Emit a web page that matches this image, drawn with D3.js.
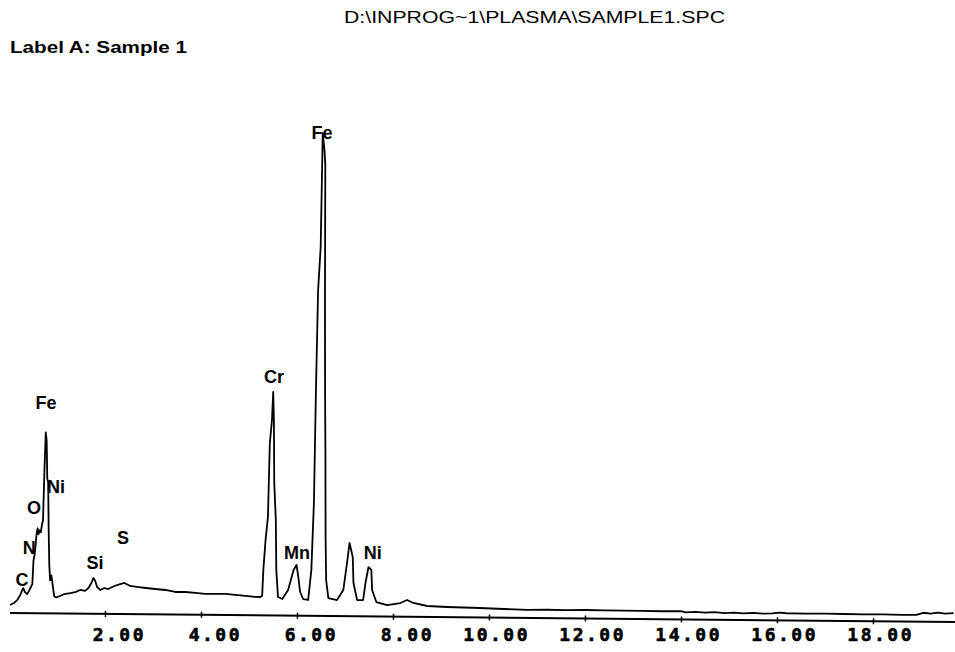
<!DOCTYPE html>
<html>
<head>
<meta charset="utf-8">
<script src="https://cdn.jsdelivr.net/npm/d3@7"></script>
<style>
  body { margin: 0; background: #fff; }
  svg { display: block; }
  .peak-label { font-family: "Liberation Sans", Arial, sans-serif; font-weight: bold; font-size: 18px; }
  .tick-label { font-family: "DejaVu Sans Mono", monospace; font-weight: bold; font-size: 18px; letter-spacing: 2.5px; stroke: #000; stroke-width: 0.6px; }
</style>
</head>
<body>
<svg width="955" height="652"></svg>
<script>
// spectrum: energy (keV) and counts
const energies = [
  0.02, 0.10, 0.17, 0.23, 0.27, 0.29, 0.33, 0.375, 0.42, 0.46, 0.48, 0.50, 0.52, 0.54, 0.56, 0.58,
  0.60, 0.625, 0.646, 0.667, 0.69, 0.71, 0.73, 0.75, 0.77, 0.79, 0.81, 0.83, 0.85, 0.875, 0.90,
  0.92, 0.94, 0.98, 1.06, 1.15, 1.27, 1.375, 1.48, 1.58, 1.65, 1.71, 1.75, 1.79, 1.83, 1.90,
  1.98, 2.06, 2.19, 2.31, 2.40, 2.52, 2.69, 2.85, 3.04, 3.25, 3.46, 3.67, 3.88, 4.08, 4.29,
  4.50, 4.71, 4.92, 5.125, 5.23, 5.27, 5.29, 5.33, 5.375, 5.40, 5.44, 5.46, 5.48, 5.50, 5.54,
  5.56, 5.60, 5.69, 5.81, 5.92, 5.98, 6.02, 6.06, 6.125, 6.23, 6.29, 6.33, 6.35, 6.375, 6.42,
  6.44, 6.48, 6.50, 6.52, 6.54, 6.56, 6.58, 6.60, 6.65, 6.83, 6.96, 7.04, 7.08, 7.15, 7.17,
  7.25, 7.375, 7.42, 7.48, 7.54, 7.56, 7.65, 7.875, 8.15, 8.29, 8.42, 8.71, 9.125, 9.81, 10.8,
  11.2, 11.6, 12.0, 12.4, 12.8, 13.2, 13.6, 14.0, 14.1, 14.3, 14.5, 14.7, 14.9, 15.1, 15.3,
  15.5, 15.7, 15.9, 16.05, 16.2, 16.6, 17.0, 17.4, 17.8, 18.2, 18.6, 18.9, 19.05, 19.2, 19.35,
  19.5, 19.68
];
const counts = [
  80, 100, 130, 180, 230, 250, 210, 190, 230, 270, 290, 530, 580, 680, 800, 850,
  790, 830, 810, 880, 930, 1430, 1810, 1730, 1350, 1310, 830, 480, 330, 380, 300,
  230, 170, 160, 175, 195, 205, 215, 237, 228, 257, 308, 358, 328, 268, 239,
  259, 249, 280, 300, 311, 282, 272, 263, 254, 245, 226, 227, 218, 209, 210,
  211, 202, 193, 184, 184, 194, 454, 754, 985, 1725, 1955, 2235, 1955, 1325, 955,
  456, 186, 166, 257, 457, 508, 388, 238, 168, 159, 459, 1130, 2260, 3260, 3690,
  4830, 4660, 4510, 3160, 2260, 1630, 790, 360, 180, 161, 262, 563, 733, 593, 333,
  163, 164, 334, 494, 465, 265, 145, 116, 137, 168, 139, 110, 102, 95, 80,
  84, 82, 85, 83, 82, 82, 80, 84, 72, 78, 70, 76, 68, 74, 66,
  72, 65, 70, 78, 72, 70, 72, 70, 68, 70, 66, 68, 90, 82, 92,
  84, 90
];

// element labels: name, energy, counts where the label sits
const labelNames = ["C", "N", "O", "Fe", "Ni", "Si", "S", "Cr", "Fe", "Mn", "Ni"];
const labelEnergies = [0.27, 0.42, 0.52, 0.77, 0.98, 1.79, 2.375, 5.52, 6.52, 6.0, 7.58];
const labelCounts = [330, 650, 1050, 2100, 1260, 500, 750, 2360, 4800, 600, 600];

const tickValues = [2, 4, 6, 8, 10, 12, 14, 16, 18];

const title = "D:\\INPROG~1\\PLASMA\\SAMPLE1.SPC";
const subtitle = "Label A: Sample 1";

const svg = d3.select("svg");
svg.append("rect").attr("width", 955).attr("height", 652).attr("fill", "#fff");

const x = d3.scaleLinear().domain([0, 19.75]).range([9, 957]);
const y = d3.scaleLinear().domain([0, 5000]).range([613, 113]);

//Header
svg.append("text")
  .attr("x", 344).attr("y", 23)
  .attr("textLength", 381).attr("lengthAdjust", "spacingAndGlyphs")
  .style("font-family", "Liberation Sans, Arial, sans-serif")
  .style("font-size", "17px")
  .text(title);

svg.append("text")
  .attr("x", 10).attr("y", 53)
  .attr("textLength", 177).attr("lengthAdjust", "spacingAndGlyphs")
  .style("font-family", "Liberation Sans, Arial, sans-serif")
  .style("font-weight", "bold")
  .style("font-size", "17px")
  .text(subtitle);

// the scan is slightly tilted, so the plot body is rotated a little
const plot = svg.append("g").attr("transform", "rotate(0.55, 10, 613)");

const axis = plot.append("g")
  .attr("transform", "translate(0,613)")
  .call(d3.axisBottom(x).tickValues(tickValues).tickSize(3).tickFormat(""));
axis.select(".domain")
  .attr("d", `M10,0H955`)
  .attr("stroke", "#000").attr("stroke-width", 2);
axis.selectAll(".tick line").attr("y1", -3).attr("y2", 3).attr("stroke-width", 1.5);

const line = d3.line()
  .x((d, i) => x(energies[i]))
  .y(d => y(d));

plot.append("path")
  .datum(counts)
  .attr("d", line)
  .attr("fill", "none")
  .attr("stroke", "#000")
  .attr("stroke-width", 1.8)
  .attr("stroke-linejoin", "round");

//Tick labels (not tilted)
svg.selectAll(".tick-label")
  .data(tickValues)
  .join("text")
  .attr("class", "tick-label")
  .attr("x", d => x(d) + 41)
  .attr("y", 641)
  .attr("text-anchor", "end")
  .text(d => d.toFixed(2));

//Peak labels
svg.selectAll(".peak-label")
  .data(labelNames)
  .join("text")
  .attr("class", "peak-label")
  .attr("x", (d, i) => x(labelEnergies[i]))
  .attr("y", (d, i) => y(labelCounts[i]))
  .attr("dy", "0.35em")
  .attr("text-anchor", "middle")
  .text(d => d);
</script>
</body>
</html>
